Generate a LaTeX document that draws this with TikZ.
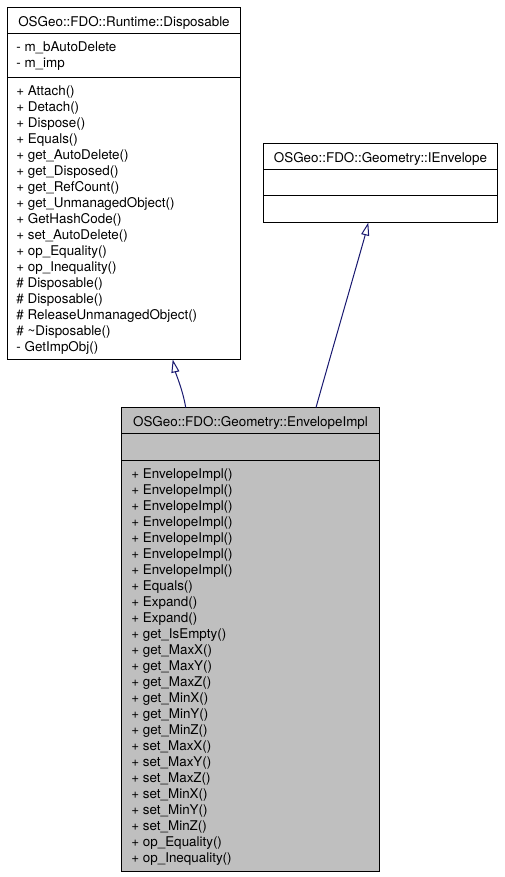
\documentclass[tikz,border=0pt]{standalone}
\usepackage{fontspec}
\setmainfont{TeX Gyre Heros}
\usetikzlibrary{arrows.meta}
\definecolor{edgeblue}{HTML}{191970}
\definecolor{implgray}{HTML}{BFBFBF}

\begin{document}
\begin{tikzpicture}[x=1pt,y=-1pt,
  classbox/.style={draw=black,line width=1pt,inner sep=0pt,outer sep=0pt,anchor=north west},
  classname/.style={inner sep=0pt,anchor=north,font=\fontsize{13.4}{16}\selectfont},
  members/.style={inner sep=0pt,anchor=north west,align=left,font=\fontsize{13.4}{16}\selectfont},
  inherit/.style={draw=edgeblue,line width=1pt,-{Triangle[open,length=13pt,width=8pt]}}]
  \useasboundingbox (0,0) rectangle (504,877);

  % base class: Disposable
  \node[classbox,fill=white,minimum width=233pt,minimum height=352pt] (disp) at (7.5,7.5) {};
  \draw[line width=1pt] (disp.west |- 0,33.5) -- (disp.east |- 0,33.5);
  \draw[line width=1pt] (disp.west |- 0,77.5) -- (disp.east |- 0,77.5);
  \node[classname] (dispname) at (124,16.2) {OSGeo::FDO::Runtime::Disposable};
  \node[members] (dispattr) at (16.2,42) {- m\_bAutoDelete\\- m\_imp};
  \node[members] (dispops) at (16.2,86) {+ Attach()\\+ Detach()\\+ Dispose()\\+ Equals()\\
    + get\_AutoDelete()\\+ get\_Disposed()\\+ get\_RefCount()\\+ get\_UnmanagedObject()\\
    + GetHashCode()\\+ set\_AutoDelete()\\+ op\_Equality()\\+ op\_Inequality()\\
    \# Disposable()\\\# Disposable()\\\# ReleaseUnmanagedObject()\\\# \textasciitilde Disposable()\\
    - GetImpObj()};

  % interface: IEnvelope
  \node[classbox,fill=white,minimum width=234pt,minimum height=79pt] (ienv) at (263.5,143.5) {};
  \draw[line width=1pt] (ienv.west |- 0,169.5) -- (ienv.east |- 0,169.5);
  \draw[line width=1pt] (ienv.west |- 0,196) -- (ienv.east |- 0,196);
  \node[classname] (ienvname) at (380.5,152.2) {OSGeo::FDO::Geometry::IEnvelope};

  % derived class: EnvelopeImpl
  \node[classbox,fill=implgray,minimum width=258pt,minimum height=464pt] (impl) at (121.5,407.5) {};
  \draw[line width=1pt] (impl.west |- 0,433.5) -- (impl.east |- 0,433.5);
  \draw[line width=1pt] (impl.west |- 0,460) -- (impl.east |- 0,460);
  \node[classname] (implname) at (250.5,416.2) {OSGeo::FDO::Geometry::EnvelopeImpl};
  \node[members] (implops) at (131.2,468.5) {+ EnvelopeImpl()\\+ EnvelopeImpl()\\+ EnvelopeImpl()\\
    + EnvelopeImpl()\\+ EnvelopeImpl()\\+ EnvelopeImpl()\\+ EnvelopeImpl()\\
    + Equals()\\+ Expand()\\+ Expand()\\+ get\_IsEmpty()\\
    + get\_MaxX()\\+ get\_MaxY()\\+ get\_MaxZ()\\+ get\_MinX()\\+ get\_MinY()\\+ get\_MinZ()\\
    + set\_MaxX()\\+ set\_MaxY()\\+ set\_MaxZ()\\+ set\_MinX()\\+ set\_MinY()\\+ set\_MinZ()\\
    + op\_Equality()\\+ op\_Inequality()};

  % inheritance
  \draw[inherit] ([xshift=-64.8pt]impl.north) .. controls +(-3,-18) and +(3,14) .. ([xshift=48.7pt]disp.south);
  \draw[inherit] ([xshift=65.5pt]impl.north) .. controls +(16,-57) and +(-5,20) .. ([xshift=-12.2pt]ienv.south);
\end{tikzpicture}
\end{document}
